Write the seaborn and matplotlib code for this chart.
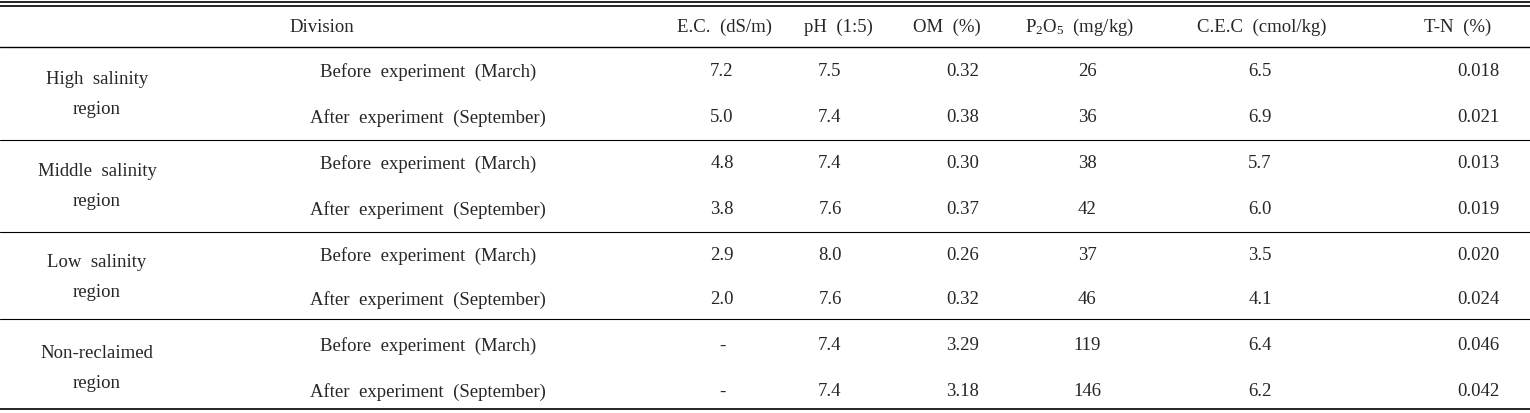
import matplotlib.pyplot as plt
import seaborn as sns
import pandas as pd

groups = ['High  salinity\nregion', 'Middle  salinity\nregion', 'Low  salinity\nregion', 'Non-reclaimed\nregion']
periods = ['Before  experiment  (March)', 'After  experiment  (September)']
headers = ['E.C.  (dS/m)', 'pH  (1:5)', 'OM  (%)', 'P$_2$O$_5$  (mg/kg)', 'C.E.C  (cmol/kg)', 'T-N  (%)']
ec = ['7.2', '5.0', '4.8', '3.8', '2.9', '2.0', '-', '-']
ph = ['7.5', '7.4', '7.4', '7.6', '8.0', '7.6', '7.4', '7.4']
om = ['0.32', '0.38', '0.30', '0.37', '0.26', '0.32', '3.29', '3.18']
p2o5 = ['26', '36', '38', '42', '37', '46', '119', '146']
cec = ['6.5', '6.9', '5.7', '6.0', '3.5', '4.1', '6.4', '6.2']
tn = ['0.018', '0.021', '0.013', '0.019', '0.020', '0.024', '0.046', '0.042']

df = pd.DataFrame({'ec': ec, 'ph': ph, 'om': om, 'p2o5': p2o5, 'cec': cec, 'tn': tn})

sns.set_style('white')
plt.rcParams['font.family'] = ['Liberation Serif', 'DejaVu Serif']
plt.rcParams['mathtext.fontset'] = 'custom'
plt.rcParams['mathtext.rm'] = 'Liberation Serif'
plt.rcParams['mathtext.it'] = 'Liberation Serif:italic'

fig = plt.figure(figsize=(15.3, 4.14), dpi=100)
ax = fig.add_axes([0, 0, 1, 1])
ax.set_xlim(0, 1530)
ax.set_ylim(414, 0)
ax.axis('off')

fs = 13.5
col_x = [722, 830, 963, 1087, 1260, 1478]
head_x = [725, 838, 947, 1080, 1262, 1458]

# rules
ax.plot([0, 1530], [3, 3], color='black', lw=1.2)
ax.plot([0, 1530], [7, 7], color='black', lw=1.2)
ax.plot([0, 1530], [48, 48], color='black', lw=1.0)
for y in [141, 233, 320]:
    ax.plot([0, 1530], [y, y], color='black', lw=0.8)
ax.plot([0, 1530], [410, 410], color='black', lw=1.2)

ax.text(322, 27, 'Division', ha='center', va='center', fontsize=fs)
for x, h in zip(head_x, headers):
    ax.text(x, 27, h, ha='center', va='center', fontsize=fs)

row_y = [72, 118, 164, 210, 256, 300, 346, 392]
for g, label in enumerate(groups):
    ax.text(97, (row_y[2 * g] + row_y[2 * g + 1]) / 2, label, ha='center', va='center',
            fontsize=fs, linespacing=2.0)
for i, y in enumerate(row_y):
    ax.text(428, y, periods[i % 2], ha='center', va='center', fontsize=fs)
    for x, c in zip(col_x, df.columns):
        ax.text(x, y, df[c][i], ha='center', va='center', fontsize=fs)

fig.savefig('out.png', dpi=100)
